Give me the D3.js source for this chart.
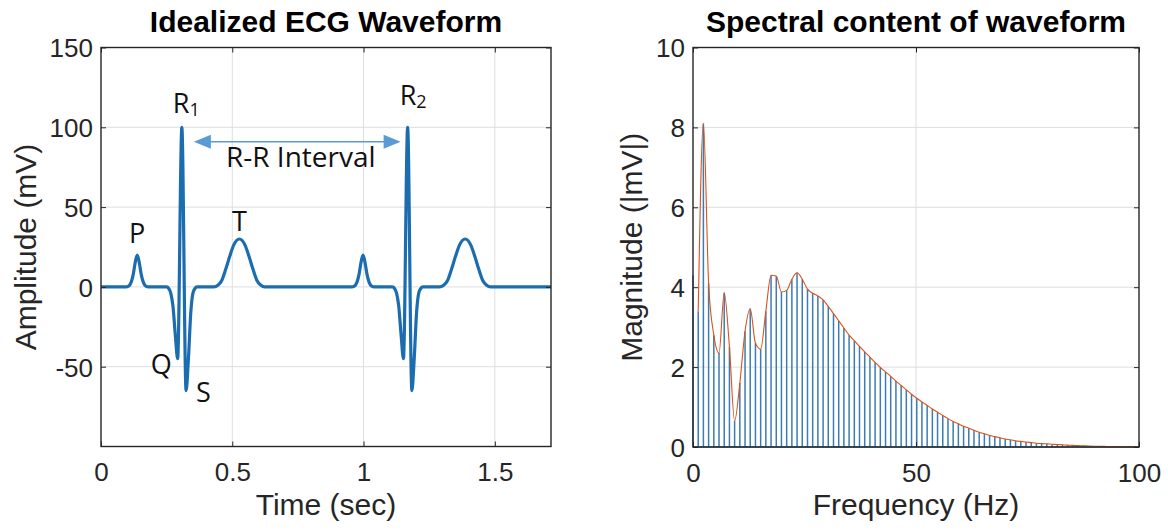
<!DOCTYPE html>
<html>
<head>
<meta charset="utf-8">
<script src="https://cdn.jsdelivr.net/npm/d3@7"></script>
<style>
  html, body { margin: 0; padding: 0; background: #fff; }
  svg { display: block; }
</style>
</head>
<body>
<svg id="fig" width="1168" height="531"></svg>
<script>
// ---- Idealized ECG, two beats (time in s, amplitude in mV) ----
const ecgTime = [
  0.000, 0.095, 0.105, 0.115, 0.123, 0.130, 0.138, 0.146, 0.153, 0.161, 0.171, 0.181,
  0.250, 0.258, 0.266, 0.274, 0.283, 0.292, 0.308, 0.324, 0.333, 0.342, 0.350, 0.358, 0.366,
  0.430, 0.445, 0.460, 0.475, 0.490, 0.505, 0.527, 0.549, 0.564, 0.579, 0.594, 0.609, 0.624,
  0.955, 0.965, 0.975, 0.983, 0.990, 0.998, 1.006, 1.013, 1.021, 1.031, 1.041,
  1.110, 1.118, 1.126, 1.134, 1.143, 1.152, 1.168, 1.184, 1.193, 1.202, 1.210, 1.218, 1.226,
  1.290, 1.305, 1.320, 1.335, 1.350, 1.365, 1.387, 1.409, 1.424, 1.439, 1.454, 1.469, 1.484,
  1.714
];
const ecgAmp = [
  0, 0, 0.5, 3, 8, 15, 20, 15, 8, 3, 0.5, 0,
  0, -1, -4, -12, -30, -45, 100, -65, -45, -16, -4, -1, 0,
  0, 1, 4, 11, 19, 26, 30, 26, 19, 11, 4, 1, 0,
  0, 0.5, 3, 8, 15, 20, 15, 8, 3, 0.5, 0,
  0, -1, -4, -12, -30, -45, 100, -65, -45, -16, -4, -1, 0,
  0, 1, 4, 11, 19, 26, 30, 26, 19, 11, 4, 1, 0,
  0
];
const ecgXTicks = [0, 0.5, 1, 1.5];
const ecgXTickLabels = ["0", "0.5", "1", "1.5"];
const ecgYTicks = [-50, 0, 50, 100, 150];
const ecgYTickLabels = ["-50", "0", "50", "100", "150"];

// ---- Spectrum: harmonics of the heart rate (Hz) and magnitudes (|mV|) ----
const stemFreq = [
  0.00, 1.17, 2.33, 3.50, 4.67, 5.83, 7.00, 8.17, 9.33, 10.50,
  11.67, 12.83, 14.00, 15.17, 16.33, 17.50, 18.67, 19.83, 21.00, 22.17,
  23.33, 24.50, 25.67, 26.83, 28.00, 29.17, 30.33, 31.50, 32.67, 33.83,
  35.00, 36.17, 37.33, 38.50, 39.67, 40.83, 42.00, 43.17, 44.33, 45.50,
  46.67, 47.83, 49.00, 50.17, 51.33, 52.50, 53.67, 54.83, 56.00, 57.17,
  58.33, 59.50, 60.67, 61.83, 63.00, 64.17, 65.33, 66.50, 67.67, 68.83,
  70.00, 71.17, 72.33, 73.50, 74.67, 75.83, 77.00, 78.17, 79.33, 80.50,
  81.67, 82.83, 84.00, 85.17, 86.33, 87.50, 88.67, 89.83, 91.00, 92.17,
  93.33, 94.50, 95.67, 96.83, 98.00, 99.17
];
const stemMag = [
  4.3, 3.4, 8.1, 4.1, 2.8, 2.35, 3.86, 2.5, 0.65, 1.6,
  2.9, 3.46, 2.6, 2.45, 3.4, 4.3, 4.28, 3.88, 3.92, 4.2,
  4.36, 4.2, 3.95, 3.85, 3.78, 3.68, 3.52, 3.34, 3.16, 2.98,
  2.8, 2.66, 2.52, 2.38, 2.25, 2.12, 1.99, 1.88, 1.77, 1.65,
  1.54, 1.43, 1.32, 1.22, 1.13, 1.04, 0.95, 0.87, 0.79, 0.71,
  0.64, 0.58, 0.52, 0.47, 0.42, 0.37, 0.33, 0.29, 0.26, 0.23,
  0.2, 0.18, 0.155, 0.14, 0.125, 0.11, 0.095, 0.085, 0.078, 0.07,
  0.062, 0.055, 0.047, 0.04, 0.035, 0.03, 0.025, 0.02, 0.018, 0.015,
  0.012, 0.01, 0.008, 0.006, 0.005, 0.004
];
const specXTicks = [0, 50, 100];
const specXTickLabels = ["0", "50", "100"];
const specYTicks = [0, 2, 4, 6, 8, 10];
const specYTickLabels = ["0", "2", "4", "6", "8", "10"];

const AX = "#262626";
const GRID = "#dedede";
const TICK_FONT = "Liberation Sans, Arial, sans-serif";
const NOTE_FONT = "'Open Sans', 'Noto Sans', sans-serif";

const svg = d3.select("#fig");
svg.append("rect").attr("width", 1168).attr("height", 531).attr("fill", "#fff");

// Draws grid, box, inward ticks on all four sides, tick labels, title and axis labels.
function makeAxes(g, x, y, opt) {
  const [xa, xb] = x.range();
  const [yb, ya] = y.range();
  const w = xb - xa, h = yb - ya;

  const grid = g.append("g");
  grid.selectAll("line.gx").data(opt.xTicks.filter(v => v > x.domain()[0] && v < x.domain()[1]))
    .join("line").attr("class", "gx")
    .attr("x1", d => x(d)).attr("x2", d => x(d)).attr("y1", ya).attr("y2", yb)
    .attr("stroke", GRID).attr("stroke-width", 1);
  grid.selectAll("line.gy").data(opt.yTicks.filter(v => v > y.domain()[0] && v < y.domain()[1]))
    .join("line").attr("class", "gy")
    .attr("y1", d => y(d)).attr("y2", d => y(d)).attr("x1", xa).attr("x2", xb)
    .attr("stroke", GRID).attr("stroke-width", 1);

  const content = g.append("g");

  const deco = g.append("g");
  const tickStyle = sel => {
    sel.select(".domain").remove();
    sel.selectAll(".tick line").attr("stroke", AX).attr("stroke-width", 1);
  };
  const bottom = deco.append("g").attr("transform", `translate(0,${yb})`)
    .call(d3.axisBottom(x).tickValues(opt.xTicks).tickSizeInner(-5).tickSizeOuter(0)
      .tickFormat((d, i) => opt.xLabels[i]));
  tickStyle(bottom);
  bottom.selectAll(".tick text").attr("y", opt.xTickBaseline - yb).attr("dy", 0)
    .attr("fill", AX).style("font", `26px ${TICK_FONT}`);

  const left = deco.append("g").attr("transform", `translate(${xa},0)`)
    .call(d3.axisLeft(y).tickValues(opt.yTicks).tickSizeInner(-5).tickSizeOuter(0).tickPadding(8)
      .tickFormat((d, i) => opt.yLabels[i]));
  tickStyle(left);
  left.selectAll(".tick text").attr("dy", "0.36em").attr("fill", AX).style("font", `26px ${TICK_FONT}`);

  const top = deco.append("g").attr("transform", `translate(0,${ya})`)
    .call(d3.axisTop(x).tickValues(opt.xTicks).tickSizeInner(-5).tickSizeOuter(0).tickFormat(""));
  tickStyle(top);
  const right = deco.append("g").attr("transform", `translate(${xb},0)`)
    .call(d3.axisRight(y).tickValues(opt.yTicks).tickSizeInner(-5).tickSizeOuter(0).tickFormat(""));
  tickStyle(right);

  deco.append("rect").attr("x", xa).attr("y", ya).attr("width", w).attr("height", h)
    .attr("fill", "none").attr("stroke", AX).attr("stroke-width", 1.4);

  g.append("text").attr("x", (xa + xb) / 2).attr("y", 32).attr("text-anchor", "middle")
    .attr("fill", "#000").style("font", `bold 30px ${TICK_FONT}`).text(opt.title);
  g.append("text").attr("x", (xa + xb) / 2).attr("y", 515).attr("text-anchor", "middle")
    .attr("fill", AX).style("font", `30px ${TICK_FONT}`).text(opt.xTitle);
  g.append("text").attr("transform", `translate(${opt.yTitleX},${(ya + yb) / 2}) rotate(-90)`)
    .attr("text-anchor", "middle").attr("fill", AX).style("font", `30px ${TICK_FONT}`).text(opt.yTitle);

  return content;
}

// ---------------- Left panel: ECG waveform ----------------
const xE = d3.scaleLinear().domain([0, 1.714]).range([101, 551]);
const yE = d3.scaleLinear().domain([-100, 150]).range([446.5, 47.5]);
const gE = svg.append("g");
const cE = makeAxes(gE, xE, yE, {
  xTicks: ecgXTicks, xLabels: ecgXTickLabels, yTicks: ecgYTicks, yLabels: ecgYTickLabels,
  xTickBaseline: 481, yTitleX: 36,
  title: "Idealized ECG Waveform", xTitle: "Time (sec)", yTitle: "Amplitude (mV)"
});

svg.append("clipPath").attr("id", "clipE").append("rect")
  .attr("x", 101).attr("y", 47.5).attr("width", 450).attr("height", 399);

const ecgLine = d3.line()
  .x(i => xE(ecgTime[i])).y(i => yE(ecgAmp[i]))
  .curve(d3.curveMonotoneX);
cE.append("path").attr("clip-path", "url(#clipE)")
  .attr("d", ecgLine(d3.range(ecgTime.length)))
  .attr("fill", "none").attr("stroke", "#1c6db0").attr("stroke-width", 3.2)
  .attr("stroke-linejoin", "round").attr("stroke-linecap", "round");

// Wave labels
const note = (x, y, txt, size, anchor) =>
  cE.append("text").attr("x", x).attr("y", y).attr("text-anchor", anchor || "start")
    .attr("fill", "#111").style("font", `${size}px ${NOTE_FONT}`).text(txt);
note(xE(0.138), yE(20) - 12, "P", 27, "middle");
note(xE(0.527), yE(30) - 8, "T", 27, "middle");
note(xE(0.292) - 6, yE(-45) + 15, "Q", 27, "end");
note(xE(0.324) + 10, yE(-65) + 11, "S", 27);

const rLabel = (x, y, sub) => {
  const t = cE.append("text").attr("x", x).attr("y", y).attr("fill", "#111")
    .style("font", `27px ${NOTE_FONT}`);
  t.append("tspan").text("R");
  t.append("tspan").attr("dy", 3).style("font-size", "18px").text(sub);
};
rLabel(xE(0.308) - 9, yE(100) - 14, "1");
rLabel(xE(1.168) - 8, yE(100) - 22, "2");

// R-R interval arrow
const arrowY = yE(91);
const ax1 = xE(0.308) + 12, ax2 = xE(1.168) - 7;
const headL = 17, headW = 7;
cE.append("line").attr("x1", ax1 + headL - 2).attr("x2", ax2 - headL + 2)
  .attr("y1", arrowY).attr("y2", arrowY)
  .attr("stroke", "#5b9bd5").attr("stroke-width", 1.5);
cE.append("path")
  .attr("d", `M${ax1},${arrowY} L${ax1 + headL},${arrowY - headW} L${ax1 + headL},${arrowY + headW} Z`)
  .attr("fill", "#5b9bd5");
cE.append("path")
  .attr("d", `M${ax2},${arrowY} L${ax2 - headL},${arrowY - headW} L${ax2 - headL},${arrowY + headW} Z`)
  .attr("fill", "#5b9bd5");
note(226, yE(75), "R-R Interval", 28);

// ---------------- Right panel: spectral content ----------------
const xS = d3.scaleLinear().domain([0, 100]).range([693, 1139]);
const yS = d3.scaleLinear().domain([0, 10]).range([447, 47.5]);
const gS = svg.append("g");
const cS = makeAxes(gS, xS, yS, {
  xTicks: specXTicks, xLabels: specXTickLabels, yTicks: specYTicks, yLabels: specYTickLabels,
  xTickBaseline: 482, yTitleX: 642,
  title: "Spectral content of waveform", xTitle: "Frequency (Hz)", yTitle: "Magnitude (|mV|)"
});

cS.selectAll("line.stem").data(d3.range(stemFreq.length)).join("line")
  .attr("class", "stem")
  .attr("x1", i => xS(stemFreq[i])).attr("x2", i => xS(stemFreq[i]))
  .attr("y1", yS(0)).attr("y2", i => yS(stemMag[i]))
  .attr("stroke", "#3b7cb2").attr("stroke-width", 1.5);
cS.append("line").attr("x1", xS(0)).attr("x2", xS(100)).attr("y1", yS(0)).attr("y2", yS(0))
  .attr("stroke", "#2f6f9f").attr("stroke-width", 1.5);

const specLine = d3.line()
  .x(i => xS(stemFreq[i])).y(i => yS(stemMag[i]))
  .curve(d3.curveMonotoneX);
cS.append("path")
  .attr("d", specLine(d3.range(1, stemFreq.length)))
  .attr("fill", "none").attr("stroke", "#d95319").attr("stroke-width", 1.1);
</script>
</body>
</html>
